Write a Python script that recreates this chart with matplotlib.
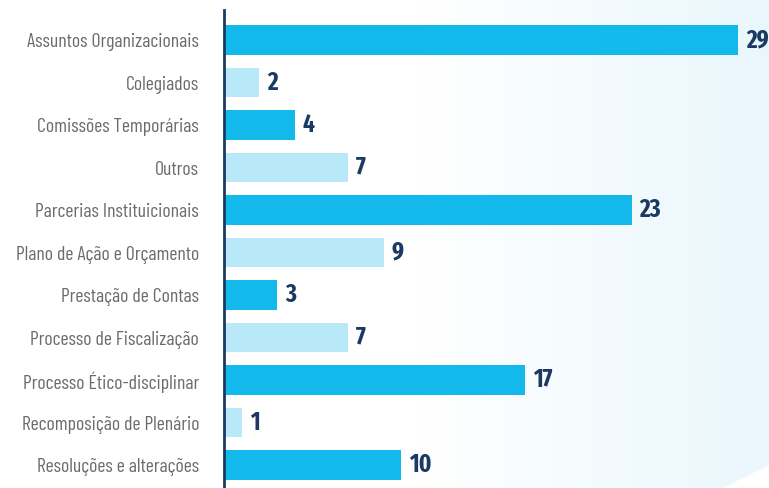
import numpy as np
import matplotlib
matplotlib.use("Agg")
import matplotlib.pyplot as plt
from matplotlib.patches import Polygon

categories = [
    "Assuntos Organizacionais",
    "Colegiados",
    "Comissões Temporárias",
    "Outros",
    "Parcerias Instituicionais",
    "Plano de Ação e Orçamento",
    "Prestação de Contas",
    "Processo de Fiscalização",
    "Processo Ético-disciplinar",
    "Recomposição de Plenário",
    "Resoluções e alterações",
]
values = [29, 2, 4, 7, 23, 9, 3, 7, 17, 1, 10]

dark = "#14b9ec"
light = "#b9e9f8"
navy = "#1b3a63"
label_font = ["Barlow Condensed", "Roboto Condensed", "DejaVu Sans"]
value_font = ["Fira Sans Extra Condensed", "Roboto Condensed", "DejaVu Sans"]

fig = plt.figure(figsize=(7.69, 4.88), dpi=100)

# faint blue gradient on the right side of the background
bg = fig.add_axes([0, 0, 1, 1], zorder=0)
grad = np.clip((np.linspace(0, 1, 400) - 0.55) / 0.45, 0, 1)
start = np.array([1.0, 1.0, 1.0])
end = np.array([0.915, 0.968, 0.99])
img = start[None, None, :] + (end - start)[None, None, :] * grad[None, :, None]
bg.imshow(img, aspect="auto", extent=[0, 1, 0, 1])
bg.add_patch(Polygon([[0.94, 0], [1, 0], [1, 0.047]], closed=True,
                     facecolor="white", edgecolor="none"))
bg.set_xlim(0, 1)
bg.set_ylim(0, 1)
bg.axis("off")

ax = fig.add_axes([224 / 769, 0, 1 - 224 / 769, 1 - 10 / 488], zorder=1)
ax.patch.set_alpha(0)

y = np.arange(len(categories))
colors = [dark if i % 2 == 0 else light for i in range(len(categories))]
ax.barh(y, values, height=0.7, color=colors)

for yi, v in zip(y, values):
    ax.text(v + 0.45, yi, str(v), va="center", ha="left", fontsize=18,
            fontweight="bold", color=navy, family=value_font)

ax.set_xlim(0, 30.75)
ax.set_ylim(len(categories) - 1 + 0.54, -0.706)
ax.set_yticks(y)
ax.set_yticklabels(categories, family=label_font, fontsize=14.2, color="#6b6b6b")
ax.tick_params(axis="y", length=0, pad=18)
ax.set_xticks([])
for s in ["top", "right", "bottom"]:
    ax.spines[s].set_visible(False)
ax.spines["left"].set_color(navy)
ax.spines["left"].set_linewidth(2)

fig.savefig("out.png", dpi=100)
